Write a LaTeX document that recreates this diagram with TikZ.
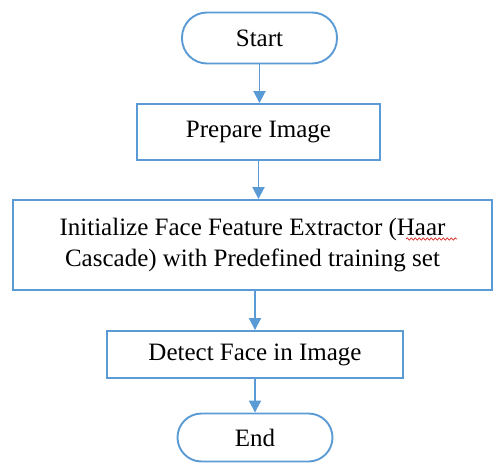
\documentclass[tikz,border=0pt]{standalone}
\usepackage{fontspec}
\setmainfont{Liberation Serif}
\usetikzlibrary{arrows.meta,decorations.pathmorphing}
\definecolor{flowblue}{RGB}{91,155,213}
\definecolor{spellred}{RGB}{220,40,40}
\begin{document}
\begin{tikzpicture}[x=1pt,y=-1pt,
  every node/.style={font=\fontsize{25}{31}\selectfont, text=black},
  terminal/.style={draw=flowblue, line width=1.9pt, fill=white, rounded corners=25pt,
    minimum width=155pt, minimum height=51pt, inner sep=0pt},
  process/.style={draw=flowblue, line width=1.9pt, fill=white, inner sep=0pt},
  arr/.style={draw=flowblue, line width=1.9pt, -{Triangle[width=12pt,length=12pt]}}]
\useasboundingbox (0,0) rectangle (493,466);
\node[terminal] (start) at (259.5,38) {Start};
\node[process, minimum width=243pt, minimum height=56pt] (prep) at (258.5,132) {Prepare Image};
\node[process, minimum width=479pt, minimum height=90pt, align=center] (init) at (252.5,245)
  {Initialize Face Feature Extractor (Haar\\Cascade) with Predefined training set};
\node[process, minimum width=296pt, minimum height=47pt] (detect) at (255,354.5) {Detect Face in Image};
\node[terminal, minimum height=48pt, rounded corners=24pt] (endn) at (255,437.5) {End};
\draw[arr] (start.south) -- (start.south |- prep.north);
\draw[arr] (prep.south) -- (prep.south |- init.north);
\draw[arr] (init.south -| detect.north) -- (detect.north);
\draw[arr] (detect.south) -- (detect.south |- endn.north);
% spell-check squiggle under "Haar"
\coordinate (sq1) at (406,239);
\coordinate (sq2) at (457,239);
\draw[spellred, line width=0.7pt, decorate, decoration={snake, amplitude=1.2pt, segment length=4pt}] (sq1) -- (sq2);
\end{tikzpicture}
\end{document}
